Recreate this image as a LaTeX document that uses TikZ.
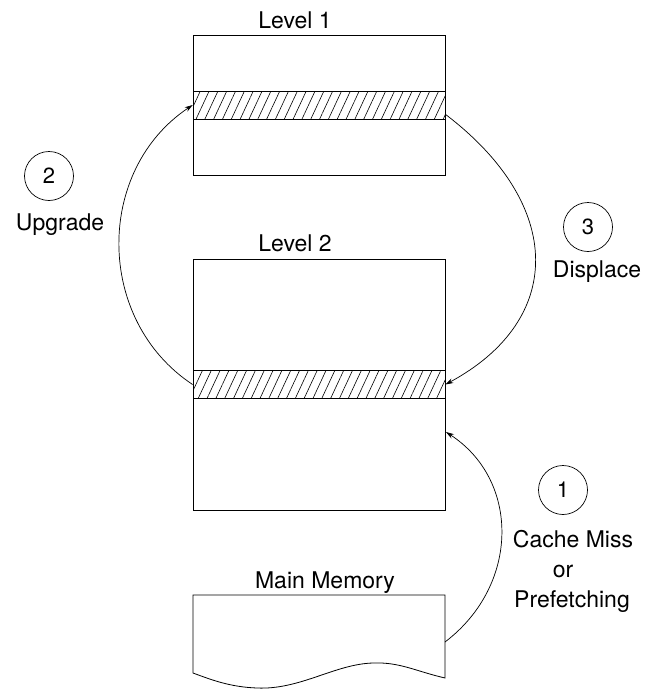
\documentclass[tikz,border=0pt]{standalone}
\usepackage{fontspec}
\setmainfont{TeX Gyre Heros}
\usetikzlibrary{patterns.meta,arrows.meta}
\begin{document}
\begin{tikzpicture}[x=1pt,y=-1pt,
  lbl/.style={font=\fontsize{23}{27}\selectfont, inner sep=0pt, anchor=base},
  levelbox/.style={draw, line width=0.8pt, rectangle, minimum width=252pt, inner sep=0pt},
  band/.style={draw, line width=0.8pt, rectangle, minimum width=252pt, minimum height=28pt, inner sep=0pt,
    pattern={Lines[angle=65,distance=8pt,line width=0.6pt]}},
  stepnum/.style={draw, circle, line width=0.7pt, minimum size=49pt, inner sep=0pt, font=\fontsize{22}{26}\selectfont},
  conn/.style={line width=0.7pt, -{Stealth[length=8pt,width=5pt]}}
]
\useasboundingbox (0,0) rectangle (660,691);
% Level 1
\node[levelbox, minimum height=140pt] (L1) at (319,105) {};
\node[band] (B1) at (319,105) {};
\node[lbl] (t1) at (295,28) {Level 1};
% Level 2
\node[levelbox, minimum height=251pt] (L2) at (319,384.5) {};
\node[band] (B2) at (319,384.5) {};
\node[lbl] (t2) at (295,251) {Level 2};
% Main memory
\draw[line width=0.8pt] (193,595) -- (445,595) -- (445,678)
  .. controls (415,671) and (400,662) .. (373,663)
  .. controls (335,664) and (300,690) .. (257,688)
  .. controls (230,687) and (212,680) .. (193,673) -- cycle;
\node[lbl] (tm) at (325,588) {Main Memory};
\coordinate (mmR) at (445,642);
\coordinate (B1se) at (445,114);
\coordinate (L2r) at (446,432);
% step labels
\node[stepnum] (c2) at (49,176) {2};
\node[lbl] (up) at (60,230) {Upgrade};
\node[stepnum] (c3) at (588,227) {3};
\node[lbl] (dis) at (597,277) {Displace};
\node[stepnum] (c1) at (563,490) {1};
\node[lbl] (cm) at (573,547) {Cache Miss};
\node[lbl] (or) at (563,577) {or};
\node[lbl] (pf) at (572,607) {Prefetching};
% connectors
\draw[conn] (B2.west) .. controls (95,320) and (95,170) .. (B1.west);
\draw[conn] (B1se) .. controls (565,205) and (565,320) .. (B2.east);
\draw[conn] (mmR) .. controls (520,585) and (520,480) .. (L2r);
\end{tikzpicture}
\end{document}
